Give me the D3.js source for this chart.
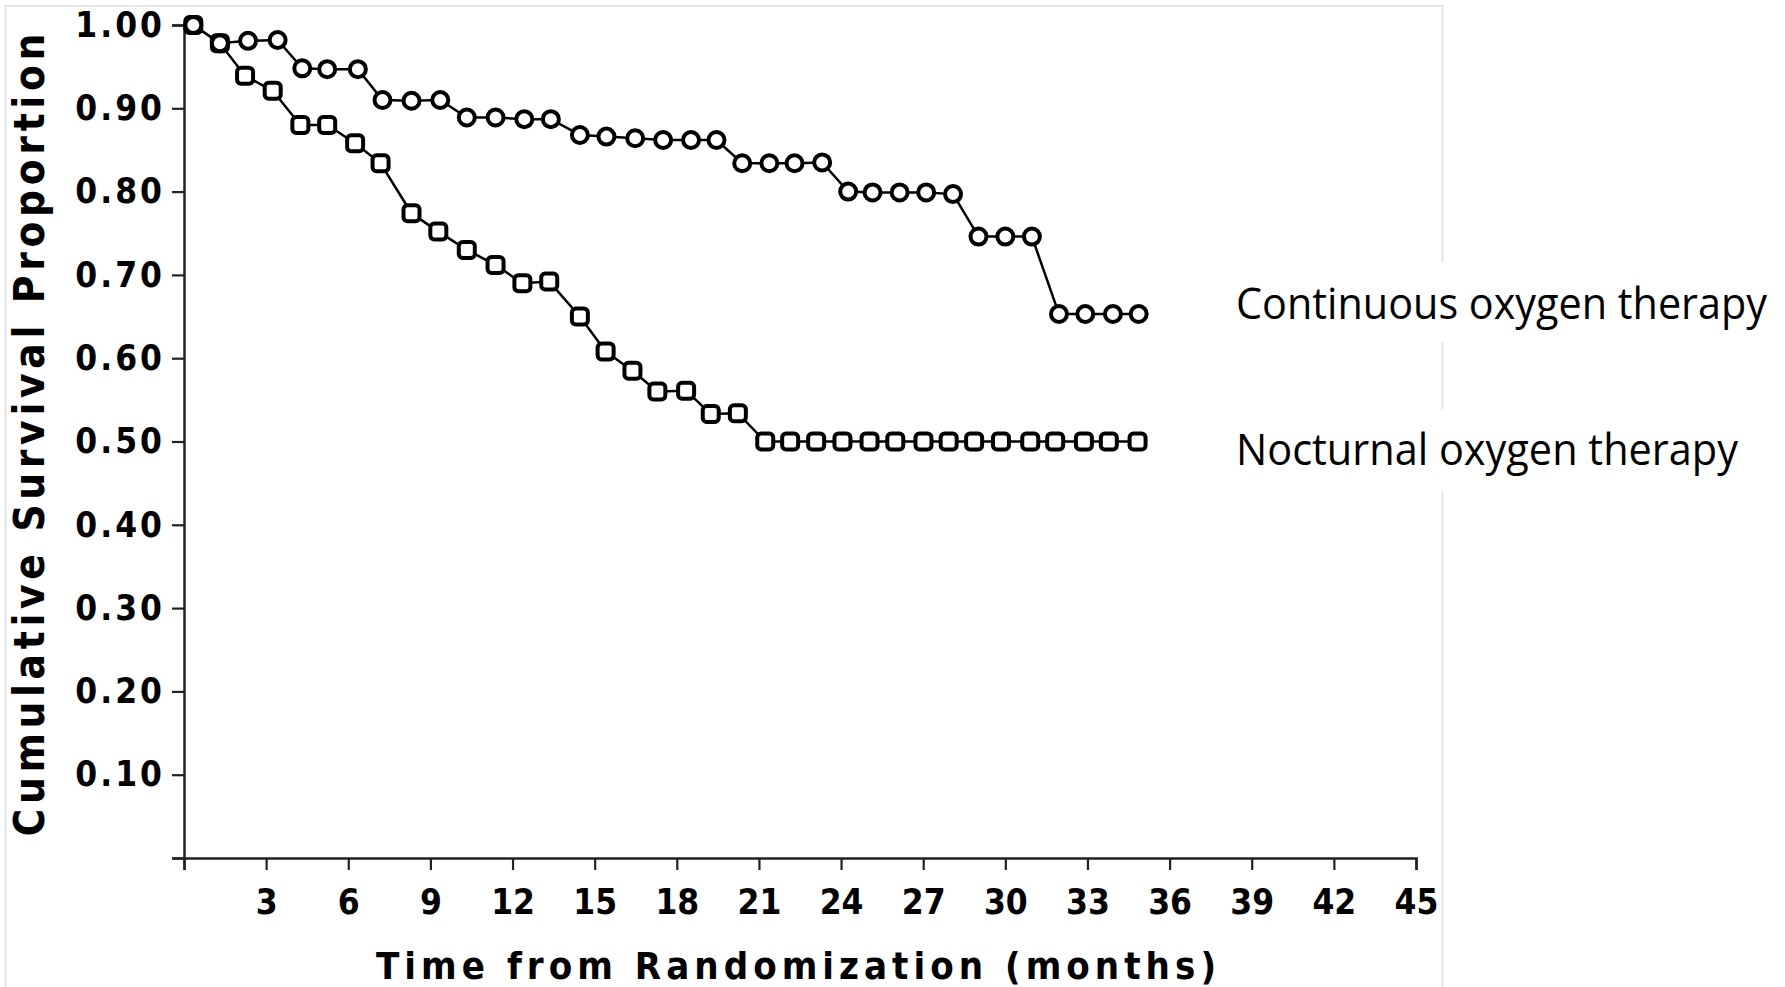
<!DOCTYPE html>
<html>
<head>
<meta charset="utf-8">
<script src="https://cdn.jsdelivr.net/npm/d3@7"></script>
<style>
  body { margin: 0; background: #fff; }
  svg { display: block; }
</style>
</head>
<body>
<div id="chart"></div>
<script>
/* survival data */
var continuousMonths = [0.34, 1.31, 2.34, 3.42, 4.32, 5.23, 6.35, 7.25, 8.31, 9.36, 10.33, 11.38, 12.43, 13.40, 14.46, 15.43, 16.48, 17.50, 18.52, 19.45, 20.39, 21.38, 22.30, 23.31, 24.26, 25.15, 26.14, 27.11, 28.09, 29.02, 30.00, 30.97, 31.96, 32.92, 33.93, 34.87];
var continuousSurvival = [1.00, 0.978, 0.981, 0.982, 0.948, 0.947, 0.947, 0.910, 0.909, 0.910, 0.889, 0.889, 0.887, 0.887, 0.868, 0.866, 0.864, 0.862, 0.862, 0.862, 0.834, 0.834, 0.834, 0.835, 0.800, 0.799, 0.799, 0.799, 0.797, 0.746, 0.746, 0.746, 0.653, 0.653, 0.653, 0.653];

var nocturnalMonths = [0.34, 1.31, 2.23, 3.24, 4.25, 5.23, 6.25, 7.18, 8.31, 9.29, 10.33, 11.38, 12.36, 13.34, 14.46, 15.40, 16.38, 17.29, 18.34, 19.24, 20.23, 21.23, 22.14, 23.09, 24.05, 25.04, 25.98, 27.01, 27.93, 28.86, 29.84, 30.91, 31.82, 32.87, 33.78, 34.83];
var nocturnalSurvival = [1.00, 0.978, 0.939, 0.921, 0.880, 0.880, 0.858, 0.834, 0.774, 0.752, 0.730, 0.712, 0.690, 0.692, 0.650, 0.608, 0.585, 0.560, 0.561, 0.533, 0.534, 0.500, 0.500, 0.500, 0.500, 0.500, 0.500, 0.500, 0.500, 0.500, 0.500, 0.500, 0.500, 0.500, 0.500, 0.500];

var xTickValues = [0, 3, 6, 9, 12, 15, 18, 21, 24, 27, 30, 33, 36, 39, 42, 45];
var yTickValues = [0, 0.1, 0.2, 0.3, 0.4, 0.5, 0.6, 0.7, 0.8, 0.9, 1.0];

var seriesLabels = ["Continuous oxygen therapy", "Nocturnal oxygen therapy"];
var xTitle = "Time from Randomization (months)",
    yTitle = "Cumulative Survival Proportion";

var width = 1785,
    height = 987,
    oldFont = "'DejaVu Sans Condensed', 'DejaVu Sans', sans-serif";

var svg = d3.select("#chart")
    .append("svg")
    .attr("width", width)
    .attr("height", height);

/* light frame around the scanned figure */
svg.append("rect")
    .attr("x", 5.5)
    .attr("y", 6)
    .attr("width", 1437)
    .attr("height", 1000)
    .attr("fill", "none")
    .attr("stroke", "#d9dde3")
    .attr("stroke-width", 1.5);

var x = d3.scaleLinear().domain([0, 45]).range([184, 1416]);
var y = d3.scaleLinear().domain([0, 1]).range([858, 25]);

/* axes */
var xAxis = svg.append("g")
    .attr("transform", "translate(0," + y(0) + ")")
    .call(d3.axisBottom(x)
        .tickValues(xTickValues)
        .tickSize(12)
        .tickPadding(19)
        .tickFormat(function(d) { return d === 0 ? "" : d; }));

var yAxis = svg.append("g")
    .attr("transform", "translate(" + x(0) + ",0)")
    .call(d3.axisLeft(y)
        .tickValues(yTickValues)
        .tickSize(12)
        .tickPadding(10)
        .tickFormat(function(d) { return d === 0 ? "" : d3.format(".2f")(d); }));

[xAxis, yAxis].forEach(function(g) {
    g.select(".domain").attr("stroke", "#222").attr("stroke-width", 2.5);
    g.selectAll(".tick line").attr("stroke", "#222").attr("stroke-width", 2.2);
    g.selectAll(".tick text")
        .attr("fill", "#000")
        .attr("font-family", oldFont)
        .attr("font-weight", "bold")
        .attr("font-size", 35);
});

yAxis.selectAll(".tick text")
    .attr("letter-spacing", 3)
    .attr("dx", 3);

/* axis titles */
svg.append("text")
    .attr("x", 796)
    .attr("y", 979)
    .attr("text-anchor", "middle")
    .attr("font-family", oldFont)
    .attr("font-weight", "bold")
    .attr("font-size", 38)
    .attr("textLength", 840)
    .attr("lengthAdjust", "spacing")
    .text(xTitle);

svg.append("text")
    .attr("transform", "translate(44,435) rotate(-90)")
    .attr("text-anchor", "middle")
    .attr("font-family", oldFont)
    .attr("font-weight", "bold")
    .attr("font-size", 42)
    .attr("textLength", 803)
    .attr("lengthAdjust", "spacing")
    .text(yTitle);

/* curves */
var continuous = continuousMonths.map(function(m, i) { return { m: m, s: continuousSurvival[i] }; });
var nocturnal = nocturnalMonths.map(function(m, i) { return { m: m, s: nocturnalSurvival[i] }; });

var line = d3.line()
    .x(function(d) { return x(d.m); })
    .y(function(d) { return y(d.s); });

[nocturnal, continuous].forEach(function(data) {
    svg.append("path")
        .datum(data)
        .attr("d", line)
        .attr("fill", "none")
        .attr("stroke", "#000")
        .attr("stroke-width", 2.5);
});

var side = 16;
svg.append("g")
    .selectAll("rect")
    .data(nocturnal)
    .enter().append("rect")
        .attr("x", function(d) { return x(d.m) - side / 2; })
        .attr("y", function(d) { return y(d.s) - side / 2; })
        .attr("width", side)
        .attr("height", side)
        .attr("rx", 4)
        .attr("fill", "#fff")
        .attr("stroke", "#000")
        .attr("stroke-width", 4);

svg.append("g")
    .selectAll("circle")
    .data(continuous)
    .enter().append("circle")
        .attr("cx", function(d) { return x(d.m); })
        .attr("cy", function(d) { return y(d.s); })
        .attr("r", 8)
        .attr("fill", "#fff")
        .attr("stroke", "#000")
        .attr("stroke-width", 4);

/* series labels on white boxes that cut the frame */
var labelBoxes = [[262, 80, 319, 531], [409, 82, 465, 502]];

labelBoxes.forEach(function(b, i) {
    svg.append("rect")
        .attr("x", 1230)
        .attr("y", b[0])
        .attr("width", 555)
        .attr("height", b[1])
        .attr("fill", "#fff");

    svg.append("text")
        .attr("x", 1236)
        .attr("y", b[2])
        .attr("font-family", "'Open Sans', 'Noto Sans', sans-serif")
        .attr("font-size", 44)
        .attr("fill", "#000")
        .attr("textLength", b[3])
        .attr("lengthAdjust", "spacingAndGlyphs")
        .text(seriesLabels[i]);
});
</script>
</body>
</html>
